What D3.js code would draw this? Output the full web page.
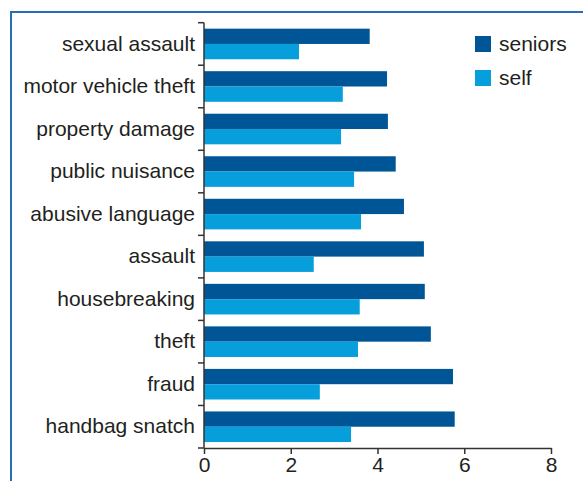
<!DOCTYPE html>
<html>
<head>
<meta charset="utf-8">
<script src="https://cdn.jsdelivr.net/npm/d3@7"></script>
<style>
body{margin:0;background:#fff;}
svg text{font-family:"Liberation Sans",Arial,sans-serif;fill:#231f20;}
</style>
</head>
<body>
<div class="chart"></div>
<script>
// Data
const categories = ['sexual assault','motor vehicle theft','property damage','public nuisance','abusive language',
    'assault','housebreaking','theft','fraud','handbag snatch'];
const seniors = [3.82,4.22,4.24,4.42,4.61,5.07,5.09,5.23,5.74,5.78];
const self = [2.19,3.2,3.16,3.46,3.62,2.53,3.59,3.55,2.67,3.39];
const seriesNames = ['seniors','self'];
const xTicks = [0,2,4,6,8];
const colors = {seniors:'#005596', self:'#069fdc'};

const rows = categories.map((c,i)=>({cat:c, seniors:seniors[i], self:self[i]}));

const svg_width = 583, svg_height = 481;
const margin = {top:22.7, left:204, right:32, bottom:33};
const width = svg_width - margin.left - margin.right;
const height = svg_height - margin.top - margin.bottom;

const svg = d3.select('.chart').append('svg')
    .attr('width',svg_width).attr('height',svg_height);

// frame
svg.append('path').attr('d',`M11,${svg_height} V12 H${svg_width}`)
    .attr('fill','none').attr('stroke','#2a6db5').attr('stroke-width',2);

const g = svg.append('g').attr('transform',`translate(${margin.left},${margin.top})`);

const xScale = d3.scaleLinear([0,8],[0,347]);
const yScale = d3.scaleBand().domain(categories).range([0,height]);
const inner = d3.scaleBand().domain(seriesNames).range([0,yScale.bandwidth()]).paddingOuter(0.39);

// bars
const groups = g.append('g').selectAll('g').data(rows).join('g')
    .attr('transform',d=>`translate(0,${yScale(d.cat)})`);
groups.selectAll('rect').data(d=>seriesNames.map(s=>({s, v:d[s]}))).join('rect')
    .attr('x',0).attr('y',d=>inner(d.s))
    .attr('width',d=>xScale(d.v)).attr('height',inner.bandwidth())
    .style('fill',d=>colors[d.s]);

// x axis
const xAxis = d3.axisBottom(xScale).tickValues(xTicks).tickSizeInner(6).tickSizeOuter(0).tickPadding(3);
const xAxisDraw = g.append('g').attr('transform',`translate(0,${height})`).call(xAxis);
xAxisDraw.selectAll('text').style('font-size','21px');
xAxisDraw.selectAll('line,path').attr('stroke','#333').attr('stroke-width',1.5);

// y axis: labels at band centres, ticks on band boundaries
const yAxis = d3.axisLeft(yScale).tickSize(0).tickPadding(9);
const yAxisDraw = g.append('g').call(yAxis);
yAxisDraw.select('.domain').remove();
yAxisDraw.selectAll('text').style('font-size','21px');
const bounds = categories.map(c=>yScale(c)).concat([height]);
g.append('g').selectAll('line').data(bounds).join('line')
    .attr('x1',-6).attr('x2',0).attr('y1',d=>d).attr('y2',d=>d)
    .attr('stroke','#333').attr('stroke-width',1.5);
g.append('line').attr('x1',0).attr('x2',0).attr('y1',0).attr('y2',height)
    .attr('stroke','#333').attr('stroke-width',1.5);

// legend
const legend = svg.append('g').attr('transform','translate(475,36)');
const li = legend.selectAll('g').data(seriesNames).join('g')
    .attr('transform',(d,i)=>`translate(0,${i*34})`);
li.append('rect').attr('width',16).attr('height',16).style('fill',d=>colors[d]);
li.append('text').attr('x',24).attr('y',15).style('font-size','21px').text(d=>d);
</script>
</body>
</html>
